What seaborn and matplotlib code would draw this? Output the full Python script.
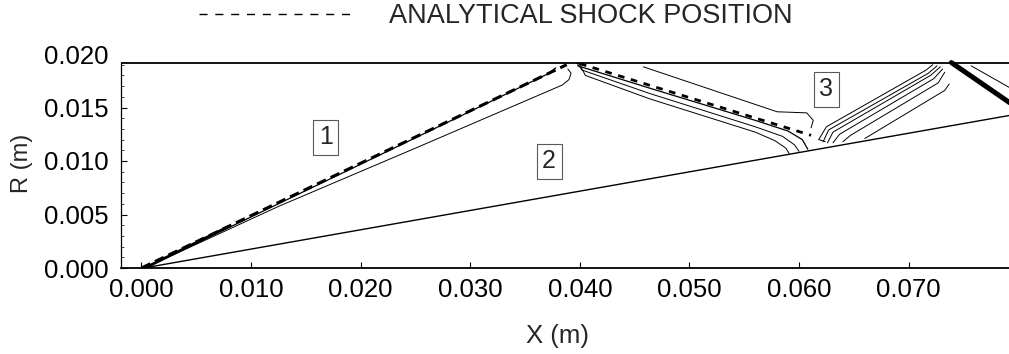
import numpy as np
import matplotlib
matplotlib.use("Agg")
import matplotlib.pyplot as plt
import seaborn as sns
from matplotlib.lines import Line2D

# ---------------- data ----------------
X_TICKS = [0.000, 0.010, 0.020, 0.030, 0.040, 0.050, 0.060, 0.070]
R_TICKS = [0.000, 0.005, 0.010, 0.015, 0.020]

# geometry: duct wall and 10-degree ramp
WALL_X = [-0.0019, 0.0800]
WALL_R = [0.0192, 0.0192]
RAMP_X = [0.0002, 0.0800]
RAMP_R = [0.0000, 0.0144]

# analytical shock position (dashed)
ANA1_X = [0.0000, 0.0388]
ANA1_R = [0.0000, 0.0190]
ANA2_X = [0.0400, 0.0611]
ANA2_R = [0.0191, 0.0124]

# computed contours: incident shock
S1A_X = [0.0003, 0.0200, 0.0370, 0.0378]
S1A_R = [0.0000, 0.0097, 0.0181, 0.0187]
S1TIP_X = [0.0003, 0.0080]
S1TIP_R = [0.0000, 0.0039]
S1B_X = [0.0003, 0.0126, 0.0250, 0.0384, 0.0390, 0.0392, 0.0389]
S1B_R = [0.0000, 0.0058, 0.0112, 0.0171, 0.0176, 0.0182, 0.0186]

# reflected shock contours
R1_X = [0.0398, 0.0464, 0.0560, 0.0590, 0.0603, 0.0608]
R1_R = [0.0189, 0.0168, 0.0138, 0.0128, 0.0120, 0.0111]
R2_X = [0.0397, 0.0402, 0.0464, 0.0560, 0.0585, 0.0596, 0.0600]
R2_R = [0.0192, 0.0185, 0.0163, 0.0132, 0.0123, 0.0115, 0.0109]
R3_X = [0.0399, 0.0405, 0.0464, 0.0560, 0.0578, 0.0588, 0.0591]
R3_R = [0.0192, 0.0180, 0.0158, 0.0127, 0.0119, 0.0112, 0.0107]
RA_X = [0.0458, 0.0580, 0.0607, 0.0613, 0.0611]
RA_R = [0.0188, 0.0146, 0.0145, 0.0138, 0.0131]

# second reflection (fan towards the wall)
F1_X = [0.0624, 0.0618, 0.0625, 0.0716, 0.0722]
F1_R = [0.0118, 0.0120, 0.0132, 0.0185, 0.0190]
F2_X = [0.0622, 0.0627, 0.0718, 0.0726]
F2_R = [0.0118, 0.0129, 0.0182, 0.0189]
F3_X = [0.0626, 0.0631, 0.0720, 0.0729]
F3_R = [0.0117, 0.0127, 0.0180, 0.0188]
F4_X = [0.0631, 0.0637, 0.0723, 0.0731]
F4_R = [0.0117, 0.0125, 0.0177, 0.0186]
F5_X = [0.0640, 0.0647, 0.0727, 0.0733]
F5_R = [0.0118, 0.0124, 0.0173, 0.0183]
F6_X = [0.0660, 0.0733, 0.0737]
F6_R = [0.0121, 0.0166, 0.0172]

# third shock leaving the wall
T_X = [0.0739, 0.0800]
T_R = [0.0192, 0.0149]
T2_X = [0.0757, 0.0800]
T2_R = [0.0189, 0.0164]

# region labels
REGION_LABELS = ["1", "2", "3"]
REGION_X = [0.0168, 0.0372, 0.0625]
REGION_R = [0.0122, 0.0100, 0.0167]

LEGEND_TEXT = "ANALYTICAL SHOCK POSITION"

# ---------------- figure ----------------
sns.set_style("ticks")
plt.rcParams["font.family"] = ["Liberation Sans", "DejaVu Sans"]

W, H = 1009, 354
fig = plt.figure(figsize=(W / 100, H / 100), dpi=100)
ax = fig.add_axes([121 / W, (H - 268) / H, (W - 121) / W, 214 / H])


def draw(x, r, lw=0.8, ls="-"):
    sns.lineplot(x=np.asarray(x), y=np.asarray(r), sort=False, estimator=None,
                 color="black", linewidth=lw, linestyle=ls, ax=ax, legend=False)


draw(WALL_X, WALL_R, lw=1.3)
draw(RAMP_X, RAMP_R, lw=1.0)

draw(S1A_X, S1A_R, lw=0.9)
draw(S1TIP_X, S1TIP_R, lw=2.0)
draw(S1B_X, S1B_R, lw=0.7)

draw(R1_X, R1_R, lw=0.9)
draw(R2_X, R2_R, lw=0.7)
draw(R3_X, R3_R, lw=0.7)
draw(RA_X, RA_R, lw=0.7)

for fx, fr in [(F1_X, F1_R), (F2_X, F2_R), (F3_X, F3_R), (F4_X, F4_R),
               (F5_X, F5_R), (F6_X, F6_R)]:
    draw(fx, fr, lw=0.7)

draw(T_X, T_R, lw=3.6)
draw(T2_X, T2_R, lw=0.7)

draw(ANA1_X, ANA1_R, lw=2.2, ls=(0, (3.2, 1.7)))
draw(ANA2_X, ANA2_R, lw=2.0, ls=(0, (2.4, 2.4)))

for lab, lx, lr in zip(REGION_LABELS, REGION_X, REGION_R):
    ax.text(lx, lr, lab, ha="center", va="center", fontsize=18,
            bbox=dict(boxstyle="square,pad=0.22", fc="white", ec="0.35", lw=0.8))

# axes styling
ax.set_xlim(-0.00187, 0.07916)
ax.set_ylim(0.0, 0.0200)
ax.set_xticks(X_TICKS)
ax.set_xticklabels([f"{v:.3f}" for v in X_TICKS])
ax.set_yticks(R_TICKS)
ax.set_yticklabels([f"{v:.3f}" for v in R_TICKS])
ax.yaxis.set_minor_locator(matplotlib.ticker.MultipleLocator(0.001))
ax.tick_params(axis="both", which="major", direction="in", length=4, width=0.8,
               labelsize=18.5, colors="black")
ax.tick_params(axis="x", which="major", pad=7)
ax.tick_params(axis="y", which="major", pad=9)
ax.tick_params(axis="y", which="minor", direction="in", length=2.5, width=0.6)
for side in ("top", "right"):
    ax.spines[side].set_visible(False)
ax.spines["left"].set_bounds(0.0, 0.0192)
ax.spines["left"].set_linewidth(0.9)
ax.spines["bottom"].set_linewidth(1.3)
ax.spines["left"].set_color("black")
ax.spines["bottom"].set_color("black")
ax.set_facecolor("white")
# the spine stops at the wall, so hide tick marks above it
ax.yaxis.get_major_ticks()[-1].tick1line.set_visible(False)
for t in ax.yaxis.get_minor_ticks():
    if t.get_loc() > 0.0192:
        t.tick1line.set_visible(False)

ax.set_xlabel("X (m)", fontsize=18.5)
ax.xaxis.set_label_coords((557 - 121) / 888, -(324 - 268) / 214)
ax.set_ylabel("R (m)", fontsize=17)
ax.yaxis.set_label_coords((33 - 121) / 888, (268 - 163) / 214)

handle = Line2D([], [], color="black", lw=1.0, ls=(0, (5.8, 5.6)))
ax.legend(handles=[handle], labels=[LEGEND_TEXT], loc="center left",
          bbox_to_anchor=(199 / W, 1 - 16 / H), bbox_transform=fig.transFigure,
          frameon=False, handlelength=5.85, handletextpad=1.15, borderpad=0,
          borderaxespad=0, fontsize=19.5)

fig.savefig("out.png", dpi=100, facecolor="white")
